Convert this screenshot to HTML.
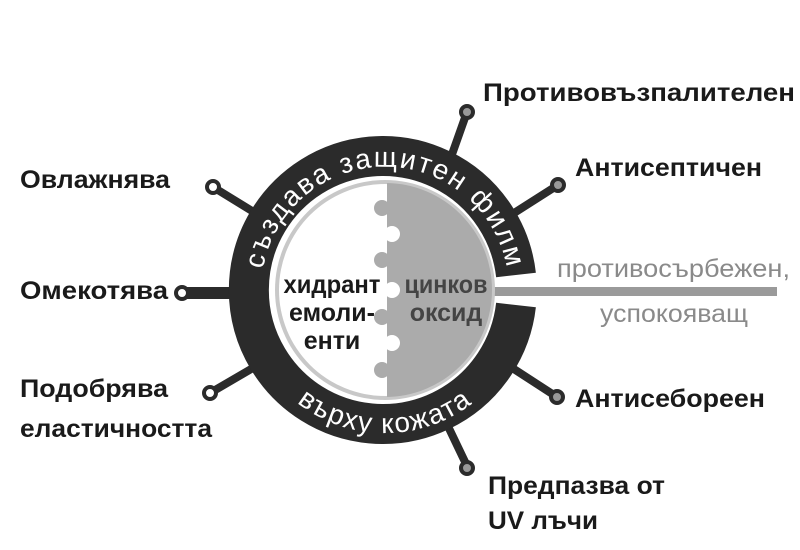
<!DOCTYPE html>
<html><head><meta charset="utf-8"><style>
html,body{margin:0;padding:0;background:#fff;}
svg{display:block;}
.b{font-family:"Liberation Sans",sans-serif;font-weight:bold;font-size:25px;fill:#1a1a1a;}
</style></head><body>
<svg width="800" height="550" viewBox="0 0 800 550" xmlns="http://www.w3.org/2000/svg">
<defs>
<clipPath id="inner"><circle cx="385" cy="290" r="107"/></clipPath>
<path id="topArc" d="M 265 322 A 124 124 0 1 1 505 322"/>
<path id="botArc" d="M 250.6 338.9 A 143 143 0 0 0 519.4 338.9"/>
</defs>
<rect width="800" height="550" fill="#fff"/>
<g stroke="#2b2b2b" stroke-width="8" stroke-linecap="round">
<line x1="213" y1="187" x2="270" y2="222"/>
<line x1="210" y1="393" x2="270" y2="358"/>
<line x1="467" y1="112" x2="450" y2="160"/>
<line x1="558" y1="185" x2="500" y2="222"/>
<line x1="557" y1="397" x2="500" y2="360"/>
<line x1="467" y1="466" x2="445" y2="420"/>
</g>
<line x1="186" y1="293" x2="240" y2="293" stroke="#2b2b2b" stroke-width="12"/>
<g stroke="#2b2b2b" stroke-width="4">
<circle cx="213" cy="187" r="6" fill="#fff"/>
<circle cx="182" cy="293" r="6" fill="#fff"/>
<circle cx="210" cy="393" r="6" fill="#fff"/>
<circle cx="467" cy="112" r="6" fill="#999"/>
<circle cx="558" cy="185" r="6" fill="#999"/>
<circle cx="557" cy="397" r="6" fill="#999"/>
<circle cx="467" cy="468" r="6" fill="#999"/>
</g>
<path d="M 516 275 A 134 134 0 1 0 516 305" fill="none" stroke="#2b2b2b" stroke-width="40"/>
<rect x="490" y="287" width="287" height="9" fill="#9a9a9a"/>
<circle cx="385" cy="290" r="110" fill="#c8c8c8"/>
<circle cx="385" cy="290" r="106" fill="#fff"/>
<g clip-path="url(#inner)">
<rect x="387" y="170" width="120" height="240" fill="#ababab"/>
<g fill="#ababab">
<circle cx="382" cy="208" r="8"/><circle cx="382" cy="260" r="8"/>
<circle cx="382" cy="317" r="8"/><circle cx="382" cy="370" r="8"/>
</g>
<g fill="#fff">
<circle cx="392" cy="234" r="8"/><circle cx="392" cy="290" r="8"/>
<circle cx="392" cy="343" r="8"/>
</g>
</g>
<text font-family="Liberation Sans,sans-serif" font-size="28" fill="#fff" letter-spacing="2"><textPath href="#topArc" startOffset="50%" text-anchor="middle">създава защитен филм</textPath></text>
<text font-family="Liberation Sans,sans-serif" font-size="28" fill="#fff" letter-spacing="1.5"><textPath href="#botArc" startOffset="50%" text-anchor="middle">върху кожата</textPath></text>
<g class="b" text-anchor="middle" font-size="23">
<text x="332" y="293" textLength="97" lengthAdjust="spacingAndGlyphs">хидрант</text>
<text x="332" y="321">емоли-</text>
<text x="332" y="349">енти</text>
<text x="446" y="293" fill="#444" textLength="83" lengthAdjust="spacingAndGlyphs">цинков</text>
<text x="446" y="321" fill="#444">оксид</text>
</g>
<text class="b" x="20" y="188" textLength="150" lengthAdjust="spacingAndGlyphs">Овлажнява</text>
<text class="b" x="20" y="299" textLength="148" lengthAdjust="spacingAndGlyphs">Омекотява</text>
<text class="b" x="20" y="397" textLength="148" lengthAdjust="spacingAndGlyphs">Подобрява</text>
<text class="b" x="20" y="437" textLength="192" lengthAdjust="spacingAndGlyphs">еластичността</text>
<text class="b" x="483" y="101" textLength="312" lengthAdjust="spacingAndGlyphs">Противовъзпалителен</text>
<text class="b" x="575" y="176" textLength="187" lengthAdjust="spacingAndGlyphs">Антисептичен</text>
<text class="b" x="575" y="407" textLength="190" lengthAdjust="spacingAndGlyphs">Антисебореен</text>
<text class="b" x="488" y="494" textLength="177" lengthAdjust="spacingAndGlyphs">Предпазва от</text>
<text class="b" x="488" y="529" textLength="110" lengthAdjust="spacingAndGlyphs">UV лъчи</text>
<text x="557" y="277" font-family="Liberation Sans,sans-serif" font-size="25" fill="#8a8a8a" textLength="233" lengthAdjust="spacingAndGlyphs">противосърбежен,</text>
<text x="600" y="322" font-family="Liberation Sans,sans-serif" font-size="25" fill="#8a8a8a" textLength="148" lengthAdjust="spacingAndGlyphs">успокояващ</text>
</svg>
</body></html>
